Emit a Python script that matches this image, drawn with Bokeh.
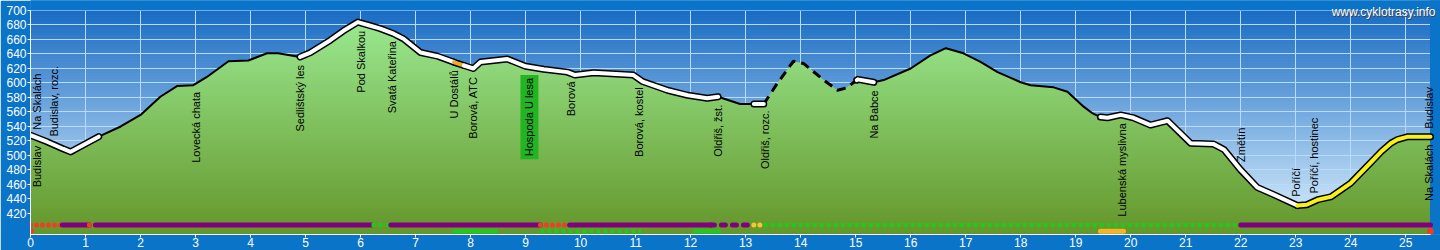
import numpy as np
from bokeh.plotting import figure
from bokeh.models import Range1d, FixedTicker, Label, ColumnDataSource
from bokeh.core.properties import value
from bokeh.embed import file_html
from bokeh.resources import INLINE

# ---------------- data ----------------
km = [0, 0.3, 0.6, 0.73, 0.9, 1.24, 1.64, 2.0, 2.36, 2.67, 2.96, 3.2, 3.6, 3.96,
      4.3, 4.5, 4.9, 5.09, 5.45, 5.69, 5.95, 6.18, 6.36, 6.6, 6.78, 7.09, 7.4, 7.76,
      8.05, 8.18, 8.67, 9.0, 9.33, 9.76, 9.9, 10.24, 10.96, 11.13, 11.58, 11.95,
      12.3, 12.5, 12.9, 13.33, 13.58, 13.87, 14.05, 14.42, 14.67, 14.82, 15.04,
      15.33, 15.51, 16.0, 16.36, 16.64, 16.96, 17.27, 17.58, 17.82, 18.0, 18.18,
      18.6, 18.85, 19.15, 19.31, 19.45, 19.58, 19.82, 20.05, 20.36, 20.67, 21.09,
      21.5, 21.7, 22.0, 22.3, 22.6, 23.03, 23.2, 23.4, 23.64, 24.0, 24.36, 24.55,
      24.73, 24.85, 25.04, 25.45]
elev = [528, 519, 509, 505, 512, 526, 540, 556, 581, 596, 597, 608, 630, 631,
        641, 641, 636, 642, 659, 672, 684, 679, 675, 668, 661, 642, 637, 627,
        620, 629, 633, 623, 619, 615, 611, 614, 611, 602, 590, 583,
        579, 581, 571, 571, 600, 630, 627, 604, 590, 593, 605,
        601, 604, 620, 638, 648, 641, 629, 615, 607, 601, 597,
        594, 588, 567, 558, 553, 552, 556, 552, 542, 548, 517,
        516, 508, 480, 456, 446, 431, 432, 439, 443, 462, 490, 505,
        517, 522, 526, 526]
total_km = 25.45

# route line highlighting (surface / type)
line_start = [0.0, 4.9, 7.7, 7.88, 13.15, 13.33, 15.02, 19.45, 23.03]
line_end = [1.24, 7.7, 7.88, 12.5, 13.33, 15.02, 15.33, 23.03, 25.45]
line_kind = ["white", "white", "orange", "white", "white", "dashed", "white", "white", "yellow"]

# bottom strip 1 (trail marking)
band1_start = [0.0, 0.58, 1.07, 1.18, 6.2, 6.55, 9.27, 9.8, 12.36, 13.15, 13.33, 22.0]
band1_end = [0.58, 1.07, 1.18, 6.2, 6.55, 9.27, 9.8, 12.36, 13.15, 13.33, 22.0, 25.45]
band1_kind = ["red", "purple", "red", "purple", "greendot", "purple", "red", "purple",
              "purpledash", "yellow", "greendot", "purple"]

# bottom strip 2
band2_start = [7.67, 9.27, 12.04, 19.45]
band2_end = [8.49, 11.1, 12.55, 19.87]
band2_kind = ["green", "greendot", "green", "orange"]
endpoints_km = [0.0, 25.45]

label_text = ["Budislav", "Na Skalách", "Budislav, rozc.", "Lovecká chata", "Sedlištský les",
              "Pod Skalkou", "Svatá Kateřina", "U Dostálů", "Borová, ATC", "Hospoda U lesa",
              "Borová", "Borová, kostel", "Oldřiš, žst.", "Oldřiš, rozc.", "Na Babce",
              "Lubenská myslivna", "Změtín", "Poříčí", "Poříčí, hostinec", "Na Skalách", "Budislav"]
label_km = [0.12, 0.12, 0.42, 3.0, 4.9, 6.0, 6.57, 7.7, 8.05, 9.07, 9.82, 11.07, 12.5,
            13.35, 15.33, 19.84, 22.0, 23.0, 23.33, 25.42, 25.42]
label_side = ["below", "above", "above", "below", "below", "below", "below", "below", "below",
              "below", "below", "below", "below", "below", "below", "below", "above", "above",
              "above", "below", "above"]
label_boxed = ["Hospoda U lesa"]

y_ticks = list(range(420, 701, 20))
x_ticks = list(range(0, 26))

# ---------------- drawing ----------------
km_a = np.array(km, dtype=float)
el_a = np.array(elev, dtype=float)
Y0, YTOP_TICK = 391, 700
BORDER = "#0a74c8"
PX_PER_KM = 55.0
FRAME_H = 234.0
PX_PER_M = (FRAME_H - 10) / (YTOP_TICK - Y0)
X_END = total_km + 10 / PX_PER_KM
Y_END = YTOP_TICK + 10 / PX_PER_M

p = figure(width=1440, height=250, x_range=Range1d(0, X_END), y_range=Range1d(Y0, Y_END),
           output_backend="svg", toolbar_location=None,
           min_border_left=30, min_border_right=0, min_border_top=0, min_border_bottom=16,
           border_fill_color=BORDER, background_fill_color=BORDER,
           outline_line_color=None)


def lerp_color(v, stops):
    for (a, ca), (b, cb) in zip(stops[:-1], stops[1:]):
        if a <= v <= b:
            t = (v - a) / (b - a)
            c = [int(round(ca[i] + t * (cb[i] - ca[i]))) for i in range(3)]
            return "#%02x%02x%02x" % tuple(c)
    c = stops[-1][1] if v > stops[-1][0] else stops[0][1]
    return "#%02x%02x%02x" % tuple(c)


sky_stops = [(391, (0xda, 0xee, 0xfc)), (420, (0xd0, 0xe8, 0xfa)), (700, (0x1a, 0x6c, 0xc4))]
green_stops = [(391, (0x64, 0x96, 0x2a)), (700, (0x9c, 0xec, 0x94))]

step = 4
levels = np.arange(Y0, YTOP_TICK + step, step)
# sky gradient (below the grid)
sky_src = ColumnDataSource(dict(
    bottom=levels[:-1] - 0.5, top=levels[1:] + 0.5,
    color=[lerp_color((a + b) / 2, sky_stops) for a, b in zip(levels[:-1], levels[1:])]))
p.quad(left=0, right=total_km, bottom="bottom", top="top", color="color",
       source=sky_src, level="image")

# terrain gradient fill
xs_d = np.union1d(km_a, np.linspace(0, total_km, 2801))
es_d = np.interp(xs_d, km_a, el_a)
for a, b in zip(levels[:-1], levels[1:]):
    y1 = np.minimum(es_d, a - 1.0)
    y2 = np.minimum(es_d, b)
    p.varea(x=xs_d, y1=y1, y2=y2, fill_color=lerp_color((a + b) / 2, green_stops))

# blue border strips over the grid outside the chart area
p.quad(left=[total_km, 0], right=[X_END, X_END], bottom=[Y0, YTOP_TICK + 0.8],
       top=[Y_END, Y_END], color=BORDER)


def seg(a, b):
    m = (km_a > a) & (km_a < b)
    xs = np.concatenate([[a], km_a[m], [b]])
    return xs, np.interp(xs, km_a, el_a)


# thin black line except dashed part
dashed = [(s, e) for s, e, k in zip(line_start, line_end, line_kind) if k == "dashed"]
prev = 0.0
for s, e in dashed + [(total_km, total_km)]:
    if s > prev:
        xs, ys = seg(prev, s)
        p.line(xs, ys, line_color="black", line_width=2, line_join="round")
    prev = e

inner = {"white": "white", "orange": "#f0a830", "yellow": "#f8f018"}
for s, e, k in zip(line_start, line_end, line_kind):
    xs, ys = seg(s, e)
    if k == "dashed":
        p.line(xs, ys, line_color="black", line_width=3, line_dash="9 6")
    else:
        p.line(xs, ys, line_color="black", line_width=7, line_join="round", line_cap="round")
for s, e, k in zip(line_start, line_end, line_kind):
    xs, ys = seg(s, e)
    if k != "dashed":
        p.line(xs, ys, line_color=inner[k], line_width=4, line_join="round", line_cap="round")

# bottom strips
ROW1, ROW2 = 404, 395.6
styles = {
    "purple": dict(line_color="#800080", line_width=5, line_cap="round"),
    "purpledash": dict(line_color="#800080", line_width=5, line_cap="round", line_dash="4 7"),
    "red": dict(line_color="#f03c28", line_width=5, line_cap="round", line_dash="0 6"),
    "yellow": dict(line_color="#f5c832", line_width=5, line_cap="round", line_dash="0 6"),
    "greendot": dict(line_color="#1ccc1c", line_width=4, line_dash="4 3"),
    "green": dict(line_color="#1ccc1c", line_width=4),
    "orange": dict(line_color="#f5b42a", line_width=5, line_cap="round"),
}
for s, e, k in zip(band1_start, band1_end, band1_kind):
    p.line([s, e], [ROW1, ROW1], **styles[k])
for s, e, k in zip(band2_start, band2_end, band2_kind):
    p.line([s, e], [ROW2, ROW2], **styles[k])
p.scatter(endpoints_km, [ROW2] * len(endpoints_km), size=6, color="#f03c28")

# place labels
lab_y = np.interp(label_km, km_a, el_a)
for side, align, off in (("below", "right", 8), ("above", "left", -8)):
    for boxed in (False, True):
        idx = [i for i in range(len(label_text))
               if label_side[i] == side and ((label_text[i] in label_boxed) == boxed)]
        if not idx:
            continue
        src = ColumnDataSource(dict(x=[label_km[i] for i in idx], y=[lab_y[i] for i in idx],
                                    t=[label_text[i] for i in idx]))
        kw = {}
        if boxed:
            kw = dict(background_fill_color="#22b422", padding=3)
        p.text(x="x", y="y", text="t", source=src, angle=np.pi / 2, y_offset=off,
               text_align=align, text_baseline="middle", text_color="black",
               text_font=value("Liberation Sans"), text_font_size="11px", **kw)

# watermark
wm_x = total_km + 5 / PX_PER_KM
wm_y = YTOP_TICK - 1 / PX_PER_M
p.add_layout(Label(x=wm_x + 1 / PX_PER_KM, y=wm_y - 1 / PX_PER_M, text="www.cyklotrasy.info",
                   text_align="right", text_baseline="alphabetic", text_color="#404040",
                   text_font="Liberation Sans", text_font_size="12px"))
p.add_layout(Label(x=wm_x, y=wm_y, text="www.cyklotrasy.info",
                   text_align="right", text_baseline="alphabetic", text_color="white",
                   text_font="Liberation Sans", text_font_size="12px"))

# axes & grid
p.xaxis.ticker = FixedTicker(ticks=x_ticks)
p.yaxis.ticker = FixedTicker(ticks=y_ticks)
p.xgrid.ticker = FixedTicker(ticks=x_ticks)
p.ygrid.ticker = FixedTicker(ticks=y_ticks)
p.xaxis.bounds = (0, total_km)
p.yaxis.bounds = (Y0, YTOP_TICK)
p.grid.grid_line_color = "#b8dcff"
p.grid.grid_line_width = 1
for ax in (p.xaxis, p.yaxis):
    ax.axis_line_color = "white"
    ax.major_tick_line_color = "white"
    ax.minor_tick_line_color = None
    ax.major_tick_in = 0
    ax.major_tick_out = 3
    ax.major_label_text_color = "white"
    ax.major_label_text_font = "Liberation Sans"
    ax.major_label_text_font_size = "12px"
p.xaxis.major_label_standoff = 0
p.yaxis.major_label_standoff = 1

open("out.html", "w").write(file_html(p, INLINE))
